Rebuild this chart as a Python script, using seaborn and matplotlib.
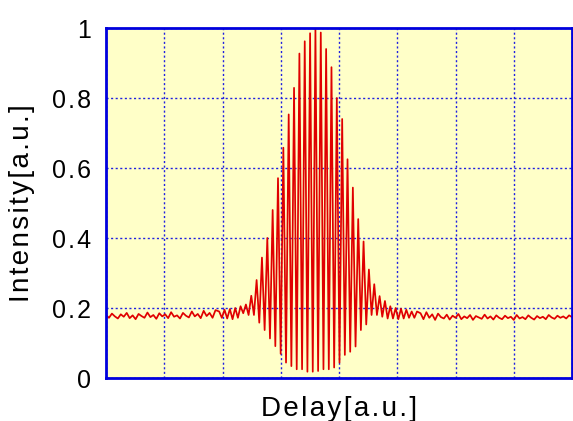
import numpy as np
import pandas as pd
import matplotlib
matplotlib.use("Agg")
import matplotlib.pyplot as plt
import seaborn as sns

# ---- data ----
# fringe maxima (one per fringe, left to right)
fringe_peaks = [0.19, 0.195, 0.197, 0.20, 0.205, 0.21, 0.235, 0.28, 0.344, 0.40,
                0.48, 0.571, 0.658, 0.753, 0.829, 0.927, 0.962, 0.985, 1.0, 0.987,
                0.94, 0.888, 0.80, 0.74, 0.625, 0.544, 0.454, 0.39, 0.31, 0.268,
                0.234, 0.22, 0.205, 0.20, 0.198, 0.195, 0.19, 0.19]
# fringe minima (between consecutive maxima)
fringe_troughs = [0.172, 0.17, 0.168, 0.172, 0.185, 0.18, 0.18, 0.158, 0.137, 0.113,
                  0.091, 0.069, 0.044, 0.034, 0.025, 0.025, 0.018, 0.018, 0.02, 0.025,
                  0.025, 0.03, 0.044, 0.066, 0.075, 0.09, 0.137, 0.153, 0.18, 0.18,
                  0.175, 0.17, 0.17, 0.168, 0.17, 0.172, 0.172]
fringe_start = 1.943      # delay of first listed maximum
fringe_period = 0.0918    # delay between maxima

# background level samples, left and right of the pulse
baseline_left = [0.180, 0.172, 0.184, 0.176, 0.170, 0.182, 0.175, 0.186, 0.171, 0.179,
                 0.168, 0.183, 0.177, 0.172, 0.187, 0.174, 0.180, 0.169, 0.185, 0.176,
                 0.182, 0.171, 0.188, 0.175, 0.179, 0.170, 0.186, 0.178, 0.173, 0.190,
                 0.176, 0.183, 0.171, 0.192, 0.177, 0.186, 0.172, 0.194]
baseline_left_range = (0.0, 1.88)
baseline_right = [0.185, 0.168, 0.188, 0.172, 0.182, 0.166, 0.184, 0.174, 0.170, 0.181,
                  0.167, 0.178, 0.172, 0.183, 0.168, 0.176, 0.171, 0.180, 0.166, 0.177,
                  0.173, 0.169, 0.181, 0.170, 0.176, 0.167, 0.179, 0.172, 0.168, 0.178,
                  0.171, 0.175, 0.166, 0.180, 0.170, 0.174, 0.168, 0.179, 0.172, 0.167,
                  0.177, 0.171, 0.175, 0.168, 0.180, 0.173, 0.169, 0.178, 0.172, 0.176,
                  0.170, 0.179, 0.174]
baseline_right_range = (5.40, 8.0)

y_ticks = [0, 0.2, 0.4, 0.6, 0.8, 1.0]
y_tick_labels = ["0", "0.2", "0.4", "0.6", "0.8", "1"]
x_ticks = [0, 1, 2, 3, 4, 5, 6, 7, 8]
x_label = "Delay[a.u.]"
y_label = "Intensity[a.u.]"

# ---- assemble the trace ----
xs, ys = [], []
xl = np.linspace(*baseline_left_range, len(baseline_left))
xs += list(xl); ys += baseline_left
for i, p in enumerate(fringe_peaks):
    xs.append(fringe_start + i * fringe_period); ys.append(p)
    if i < len(fringe_troughs):
        xs.append(fringe_start + (i + 0.5) * fringe_period); ys.append(fringe_troughs[i])
xr = np.linspace(*baseline_right_range, len(baseline_right))
xs += list(xr); ys += baseline_right
df = pd.DataFrame({"delay": xs, "intensity": ys})

# ---- draw ----
sns.set_theme(style="white")
plt.rcParams["font.family"] = ["Liberation Sans", "DejaVu Sans"]

def spaced(s):
    return "\u200a".join(s)

fig = plt.figure(figsize=(5.73, 4.21), dpi=100)
ax = fig.add_axes([106 / 573, 43 / 421, (572 - 106) / 573, 350 / 421])

sns.lineplot(data=df, x="delay", y="intensity", color="#E00000", linewidth=1.25,
             estimator=None, sort=False, ax=ax)

ax.set_facecolor("#FFFFC8")
ax.set_xlim(0, 8)
ax.set_ylim(0, 1)
ax.set_xticks(x_ticks)
ax.set_xticklabels([])
ax.set_yticks(y_ticks)
ax.set_yticklabels([spaced(t) for t in y_tick_labels], fontsize=18, color="black")
ax.tick_params(length=0, pad=11)
ax.set_axisbelow(True)
ax.grid(True, color="#2020E0", linestyle=(0, (1.5, 1.8)), linewidth=1.0)
for sp in ax.spines.values():
    sp.set_visible(True)
    sp.set_color("#0000DD")
    sp.set_linewidth(2.0)

ax.set_xlabel(spaced(x_label), fontsize=20, labelpad=2, color="black")
ax.set_ylabel(spaced(y_label), fontsize=20, labelpad=12, color="black")

fig.savefig("out.png", dpi=100)
